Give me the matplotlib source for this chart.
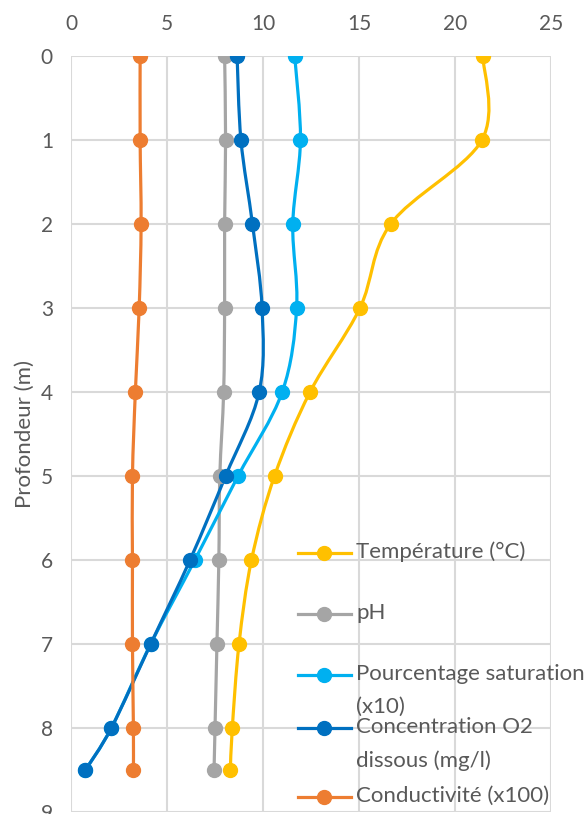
import numpy as np
import matplotlib.pyplot as plt
from matplotlib.path import Path
from matplotlib.patches import PathPatch
from matplotlib.lines import Line2D

plt.rcParams['font.family'] = ['Lato', 'DejaVu Sans']

# depth (m) and measured series
depth = [0, 1, 2, 3, 4, 5, 6, 7, 8, 8.5]
temperature = [21.45, 21.4, 16.65, 15.05, 12.45, 10.6, 9.4, 8.75, 8.4, 8.3]
ph = [8.0, 8.05, 8.0, 8.0, 7.95, 7.75, 7.7, 7.6, 7.5, 7.45]
saturation = [11.65, 11.95, 11.55, 11.75, 11.0, 8.7, 6.45, 4.15, 2.1, 0.75]
oxygen = [8.65, 8.85, 9.45, 9.95, 9.8, 8.05, 6.2, 4.15, 2.1, 0.75]
conductivity = [3.6, 3.6, 3.65, 3.55, 3.35, 3.2, 3.2, 3.2, 3.25, 3.25]

labels = ['Température (°C)', 'pH', 'Pourcentage saturation\n(x10)',
          'Concentration O2\ndissous (mg/l)', 'Conductivité (x100)']
series = [temperature, ph, saturation, oxygen, conductivity]
colors = ['#FFC000', '#A5A5A5', '#00B0F0', '#0070C0', '#ED7D31']

txt = '#595959'
grid_c = '#D9D9D9'


def smooth_path(x, y):
    # Excel-style smoothed line as cubic bezier segments
    pts = np.column_stack([x, y]).astype(float)
    n = len(pts)
    verts = [pts[0]]
    codes = [Path.MOVETO]
    for i in range(n - 1):
        p0 = pts[max(i - 1, 0)]
        p1 = pts[i]
        p2 = pts[i + 1]
        p3 = pts[min(i + 2, n - 1)]
        c1 = p1 + (p2 - p0) / 6
        c2 = p2 - (p3 - p1) / 6
        verts += [c1, c2, p2]
        codes += [Path.CURVE4] * 3
    return Path(verts, codes)


fig = plt.figure(figsize=(5.85, 8.14), dpi=100)
ax = fig.add_axes([0.1214, 0.0025, 0.8205, 0.9287])

for vals, c in zip(series, colors):
    ax.add_patch(PathPatch(smooth_path(vals, depth), facecolor='none',
                           edgecolor=c, lw=2.3, zorder=3))
    ax.plot(vals, depth, 'o', color=c, ms=10, zorder=4)

ax.set_xlim(0, 25)
ax.set_ylim(9, 0)
ax.set_xticks(range(0, 26, 5))
ax.set_yticks(range(0, 10))
ax.xaxis.tick_top()
ax.tick_params(axis='both', length=0, labelsize=15, colors=txt)
ax.tick_params(axis='x', pad=16)
ax.tick_params(axis='y', pad=13)
ax.grid(True, color=grid_c, lw=1.5)
ax.set_axisbelow(True)
for s in ax.spines.values():
    s.set_visible(False)
ax.set_ylabel('Profondeur (m)', fontsize=16, color=txt, labelpad=4)

# legend drawn by hand so the handle lines up with the first text line
leg_y = [0.657, 0.738, 0.819, 0.889, 0.980]
for lab, c, yy in zip(labels, colors, leg_y):
    ax.add_line(Line2D([0.473, 0.583], [1 - yy, 1 - yy], color=c, lw=2.3,
                       transform=ax.transAxes, clip_on=False, zorder=5))
    ax.add_line(Line2D([0.528], [1 - yy], marker='o', ms=10, color=c,
                       transform=ax.transAxes, clip_on=False, zorder=5))
    ax.text(0.594, 1 - yy + 0.015, lab, transform=ax.transAxes, fontsize=16,
            color=txt, va='top', ha='left', linespacing=1.8, zorder=5)

fig.savefig('out.png', dpi=100)
